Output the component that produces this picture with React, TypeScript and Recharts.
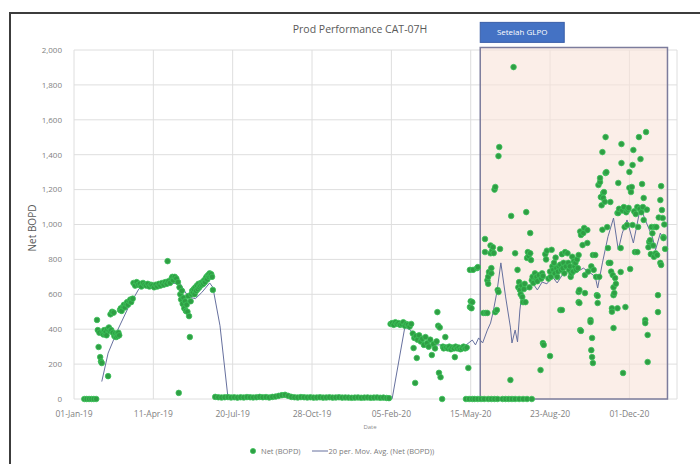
import { CartesianGrid, ComposedChart, Line, ReferenceArea, Scatter, XAxis, YAxis } from "recharts";

// x values are days since 01-Jan-19
const dayTicks = [0, 100, 200, 300, 400, 500, 600, 700];
const dayLabels = ["01-Jan-19", "11-Apr-19", "20-Jul-19", "28-Oct-19", "05-Feb-20", "15-May-20", "23-Aug-20", "01-Dec-20"];
const bopdTicks = [0, 200, 400, 600, 800, 1000, 1200, 1400, 1600, 1800, 2000];

const glpoStart = 512;
const glpoEnd = 748;

const startup2019: [number, number][] = [
  [13, 0], [16, 0], [19, 0], [22, 0], [25, 0], [28, 0],
  [29, 453], [30, 395], [31, 298], [32, 380], [33, 240], [34, 215], [35, 206], [36, 380], [37, 370], [38, 395],
  [39, 375], [40, 385], [41, 365], [42, 400], [43, 131], [44, 410], [45, 390], [46, 485], [47, 395], [48, 500],
  [49, 380], [50, 495], [51, 360], [52, 375], [53, 355], [54, 370], [55, 360], [56, 380], [57, 365], [58, 510],
  [59, 520], [60, 505], [62, 530], [63, 540], [64, 525], [66, 545], [67, 555], [68, 540], [70, 560], [71, 570],
  [72, 555], [74, 575], [75, 665], [77, 650], [79, 670], [81, 655], [83, 660], [85, 645], [87, 665], [89, 655],
  [91, 650], [93, 660], [95, 645], [97, 655], [99, 650], [101, 640], [103, 655], [105, 645], [107, 660], [109, 650],
  [111, 665], [113, 655], [115, 670], [117, 660], [118, 790], [119, 675], [121, 665], [123, 690], [124, 700],
  [125, 680], [127, 700], [129, 690], [131, 670], [132, 35], [133, 640], [134, 600], [135, 570], [136, 620],
  [137, 545], [138, 580], [139, 520], [140, 560], [141, 505], [142, 540], [143, 500], [144, 590], [145, 475],
  [146, 355], [147, 560], [148, 600], [149, 620], [150, 610], [151, 630], [152, 600], [153, 640], [154, 620],
  [155, 650], [156, 630], [157, 660], [158, 640], [159, 650], [160, 665], [161, 655], [162, 670], [163, 660],
  [164, 680], [165, 670], [166, 690], [167, 700], [168, 685], [169, 710], [170, 700], [171, 720], [172, 705],
  [173, 715], [174, 700], [175, 625],
];

const shutIn: [number, number][] = [
  [178, 12], [182, 10], [186, 9], [190, 10], [194, 11], [198, 9], [202, 10], [206, 8], [210, 10], [214, 9],
  [218, 11], [222, 10], [226, 9], [230, 10], [234, 12], [238, 10], [242, 11], [246, 9], [250, 12], [254, 14],
  [258, 18], [262, 22], [266, 24], [270, 18], [274, 12], [278, 10], [282, 9], [286, 11], [290, 10], [294, 9],
  [298, 10], [302, 8], [306, 9], [310, 10], [314, 8], [318, 9], [322, 10], [326, 8], [330, 9], [334, 10],
  [338, 8], [342, 9], [346, 8], [350, 7], [354, 8], [358, 9], [362, 7], [366, 8], [370, 9], [374, 7],
  [378, 8], [382, 9], [386, 7], [390, 8], [394, 6], [397, 5],
];

const restart2020: [number, number][] = [
  [399, 430], [401, 435], [403, 425], [405, 440], [407, 430], [409, 435], [411, 425], [413, 430], [415, 440],
  [417, 420], [419, 430], [421, 425], [423, 415], [425, 430], [427, 375], [428, 292], [429, 350], [430, 92],
  [431, 360], [432, 235], [433, 340], [435, 365], [437, 330], [439, 345], [441, 310], [443, 355], [445, 320],
  [447, 300], [449, 340], [451, 252], [453, 315], [455, 290], [457, 330], [458, 498], [459, 420], [460, 150],
  [461, 410], [462, 125], [464, 0], [465, 300], [466, 290], [468, 355], [469, 295], [471, 290], [473, 300],
  [475, 285], [477, 295], [479, 290], [480, 240], [481, 300], [483, 290], [485, 295], [487, 285], [489, 290],
  [491, 300], [493, 290], [495, 295], [497, 178],
];

const glpoZeros: [number, number][] = [
  [494, 0], [498, 0], [502, 0], [505, 0], [509, 0], [513, 0], [517, 0], [522, 0], [526, 0], [530, 0],
  [534, 0], [540, 0], [544, 0], [548, 0], [552, 0], [556, 0], [561, 0], [566, 0], [571, 0], [577, 0],
];

const afterGlpo: [number, number][] = [
  [499, 740], [499, 527], [500, 560], [501, 520], [502, 555], [503, 740], [508, 750], [509, 756],
  [516, 493], [518, 917], [518, 842], [519, 493], [521, 680], [521, 493], [522, 700], [522, 660], [523, 728],
  [525, 835], [525, 880], [526, 720], [526, 750], [527, 850], [528, 870], [529, 836], [530, 1200], [531, 1215],
  [531, 498], [533, 510], [534, 625], [535, 613], [535, 1392], [536, 1444], [537, 860],
  [550, 109], [551, 1049], [554, 1902], [556, 835], [559, 740], [560, 640], [561, 670], [562, 625], [563, 600],
  [564, 650], [565, 585], [566, 555], [567, 630], [568, 660], [569, 555], [570, 1071], [571, 808], [572, 842],
  [573, 820], [574, 640], [575, 951], [575, 835], [576, 796], [577, 680], [578, 700], [579, 665],
  [581, 720], [582, 690], [583, 700], [584, 675], [586, 710], [588, 166], [589, 690], [590, 720], [591, 320],
  [591, 705], [592, 310], [594, 830], [595, 800], [596, 850], [598, 690], [600, 246], [600, 730], [601, 700],
  [602, 855], [603, 760], [604, 740], [605, 780], [606, 720], [607, 810], [608, 750], [609, 700], [610, 730],
  [611, 760], [613, 510], [613, 770], [614, 740], [615, 510], [615, 830], [616, 750], [617, 780], [618, 720],
  [619, 842], [620, 760], [622, 835], [623, 780], [624, 740], [625, 760], [626, 700], [627, 720], [628, 815],
  [629, 730], [630, 790], [631, 760], [632, 780], [633, 740], [634, 800], [635, 750], [636, 613], [636, 555],
  [636, 825], [637, 625], [637, 550], [638, 395], [638, 960], [639, 390], [639, 940], [641, 882], [642, 951],
  [643, 980], [644, 710], [644, 607], [647, 968], [647, 894], [648, 730], [651, 453], [651, 441], [652, 280],
  [652, 760], [653, 350], [653, 240], [654, 825], [654, 206], [655, 740], [657, 825], [658, 700], [659, 595],
  [660, 550], [660, 590], [661, 1226], [662, 700], [663, 1243], [663, 1266], [664, 1157], [665, 1110],
  [666, 1415], [666, 970], [667, 1180], [667, 1152], [668, 1186], [669, 1130], [670, 1501], [670, 1295],
  [671, 1300], [672, 985], [673, 865], [674, 780], [676, 780], [676, 1129], [677, 730], [678, 520], [678, 500],
  [679, 710], [680, 595], [680, 407], [680, 640], [681, 607], [682, 693], [683, 660], [685, 520], [685, 1066],
  [686, 1238], [686, 1066], [687, 1090], [689, 728], [689, 865], [690, 1461], [690, 1352], [691, 1080],
  [692, 149], [693, 1100], [694, 985], [695, 527], [696, 1070], [697, 997], [698, 1085], [699, 1095],
  [700, 1301], [700, 1210], [701, 745], [702, 1186], [703, 1215], [704, 1341], [704, 997], [705, 1427],
  [706, 1075], [707, 842], [708, 1060], [710, 842], [710, 1100], [711, 986], [712, 1501], [713, 1090],
  [714, 1375], [715, 1070], [716, 1232], [717, 1100], [718, 1152], [718, 1026], [720, 453], [720, 435],
  [721, 1530], [722, 1085], [723, 367], [723, 212], [724, 870], [725, 900], [726, 910], [727, 830], [728, 986],
  [729, 950], [730, 880], [731, 815], [732, 986], [733, 835], [734, 985], [735, 825], [736, 595], [736, 498],
  [737, 1040], [739, 1140], [739, 780], [740, 1220], [740, 768], [741, 1083], [742, 1037], [743, 928],
  [743, 922], [744, 1000], [745, 860],
];

// 20 per. moving average as drawn in the source
const movingAvg: [number, number][] = [
  [35, 100], [43, 263], [55, 395], [68, 520], [81, 625], [86, 653], [100, 650], [120, 665], [134, 660],
  [144, 585], [153, 575], [161, 610], [171, 665], [175, 640], [184, 420], [194, 10], [240, 10], [300, 12],
  [360, 8], [401, 2], [417, 412], [424, 395], [433, 338], [449, 310], [465, 310], [491, 298], [502, 338],
  [506, 310], [510, 350], [515, 321], [521, 395], [525, 435], [528, 493], [533, 613], [538, 780], [544, 585],
  [550, 412], [552, 321], [556, 395], [559, 327], [562, 510], [566, 665], [571, 625], [578, 665], [584, 625],
  [590, 670], [596, 660], [603, 700], [609, 665], [617, 722], [625, 740], [634, 728], [642, 750], [651, 722],
  [657, 700], [660, 636], [666, 780], [673, 930], [680, 1037], [686, 854], [691, 950], [697, 1026], [705, 894],
  [714, 1100], [720, 1026], [729, 928], [733, 854], [739, 951], [743, 911],
];

const toPoints = (rows: [number, number][]) => rows.map(([day, bopd]) => ({ day, bopd }));
const netData = toPoints([...startup2019, ...shutIn, ...restart2020, ...glpoZeros, ...afterGlpo]);
const maData = toPoints(movingAvg);

const FONT = "'Open Sans', 'Liberation Sans', sans-serif";
const DOT_FILL = "#2f9e44";
const DOT_EDGE = "#3cc35a";
const MA_COLOR = "#66709e";

const NetDot = (props: any) => (
  <circle cx={props.cx} cy={props.cy} r={2.8} fill={DOT_FILL} stroke={DOT_EDGE} strokeWidth={0.8} />
);

const GlpoLabel = (props: any) => {
  const { x, y } = props.viewBox;
  return (
    <g>
      <rect x={x} y={y - 25} width={84} height={20} fill="#4472c4" stroke="#3a5fa8" />
      <text x={x + 42} y={y - 12} textAnchor="middle" fill="#fff" fontSize={8} fontFamily={FONT}>
        Setelah GLPO
      </text>
    </g>
  );
};

export default function App() {
  return (
    <div style={{ position: "absolute", left: 0, top: 0, width: 700, height: 464, background: "#fff", fontFamily: FONT, overflow: "hidden" }}>
      <div style={{ position: "absolute", left: 9, top: 12, width: 700, height: 460, borderTop: "2px solid #3c3c3c", borderLeft: "2px solid #3c3c3c" }} />
      <div style={{ position: "absolute", left: 0, width: 720, top: 22, textAlign: "center", fontSize: 10.5, color: "#595959" }}>
        Prod Performance CAT-07H
      </div>
      <div style={{ position: "absolute", left: 32, top: 228, transform: "translate(-50%, -50%) rotate(-90deg)", fontSize: 10, color: "#595959", whiteSpace: "nowrap" }}>
        Net BOPD
      </div>
      <div style={{ position: "absolute", left: 0, width: 740, top: 423, textAlign: "center", fontSize: 6, color: "#8a8a8a" }}>
        Date
      </div>
      <div style={{ position: "absolute", left: 248, top: 446, display: "flex", alignItems: "center", fontSize: 7.5, color: "#7a7a7a", whiteSpace: "nowrap" }}>
        <svg width={10} height={10}>
          <circle cx={5} cy={5} r={2.6} fill={DOT_FILL} stroke={DOT_EDGE} strokeWidth={0.8} />
        </svg>
        <span style={{ marginLeft: 3 }}>Net (BOPD)</span>
        <svg width={18} height={10} style={{ marginLeft: 10 }}>
          <line x1={1} y1={5} x2={17} y2={5} stroke={MA_COLOR} strokeWidth={1} />
        </svg>
        <span>20 per. Mov. Avg. (Net (BOPD))</span>
      </div>
      <div style={{ position: "absolute", left: 0, top: 0 }}>
        <ComposedChart width={700} height={464} margin={{ top: 50, right: 23, bottom: 45, left: 0 }}>
          <CartesianGrid stroke="#dedede" strokeWidth={1} verticalPoints={undefined} />
          <XAxis
            dataKey="day"
            type="number"
            domain={[0, 760]}
            ticks={dayTicks}
            tickFormatter={(v: number) => dayLabels[dayTicks.indexOf(v)] ?? ""}
            axisLine={false}
            tickLine={false}
            height={20}
            tickMargin={6}
            tick={{ fontSize: 8.5, fill: "#7f7f7f", fontFamily: FONT }}
            interval={0}
          />
          <YAxis
            dataKey="bopd"
            type="number"
            domain={[0, 2000]}
            ticks={bopdTicks}
            tickFormatter={(v: number) => v.toLocaleString("en-US")}
            axisLine={false}
            tickLine={false}
            width={74}
            tickMargin={6}
            tick={{ fontSize: 8, fill: "#7f7f7f", fontFamily: FONT }}
            interval={0}
          />
          <ReferenceArea
            x1={glpoStart}
            x2={glpoEnd}
            y1={0}
            y2={2015}
            ifOverflow="visible"
            fill="#f8e2d8"
            fillOpacity={0.6}
            stroke="#7c7c9c"
            strokeWidth={1.5}
            label={<GlpoLabel />}
          />
          <Scatter data={netData} dataKey="bopd" shape={NetDot} isAnimationActive={false} />
          <Line data={maData} dataKey="bopd" type="linear" stroke={MA_COLOR} strokeWidth={1} dot={false} isAnimationActive={false} />
        </ComposedChart>
      </div>
    </div>
  );
}
